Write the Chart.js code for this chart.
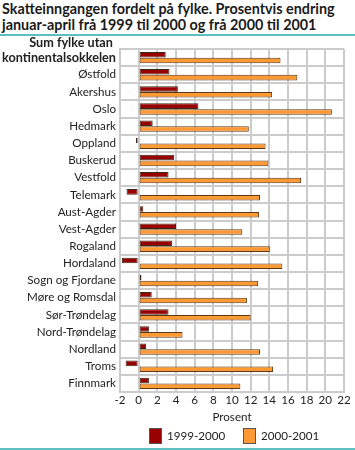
<!DOCTYPE html>
<html><head><meta charset="utf-8">
<script src="https://cdn.jsdelivr.net/npm/chart.js@4/dist/chart.umd.min.js"></script>
<style>
html,body{margin:0;padding:0;background:#fff;width:355px;height:450px;overflow:hidden;font-family:Lato,sans-serif;}
#title{position:absolute;left:2px;top:1px;font-family:Lato,sans-serif;font-weight:bold;font-size:14px;line-height:16px;color:#1a1a1a;white-space:nowrap;}
#line1{position:absolute;left:0;top:34px;width:355px;height:2px;background:#5cc0c0;}
#line2{position:absolute;left:0;top:448px;width:355px;height:2px;background:#5cc0c0;}
#wrap{position:absolute;left:0;top:0;width:355px;height:447px;}
#legend{position:absolute;left:0;top:428px;width:355px;height:16px;}
.li{position:absolute;top:0;height:16px;white-space:nowrap;color:#222;}
.sw{position:absolute;left:0;top:0;width:13px;height:16px;box-sizing:border-box;border:1px solid #555;}
.lt{position:absolute;left:18px;top:-1px;line-height:18px;}
</style></head>
<body>
<div id="title"><span id="t1">Skatteinngangen fordelt på fylke. Prosentvis endring</span><br><span id="t2">januar-april frå 1999 til 2000 og frå 2000 til 2001</span></div>
<div id="line1"></div>
<div id="wrap"><canvas id="c" width="355" height="447"></canvas></div>
<div id="legend"></div>
<div id="line2"></div>
<script>
const categories = [
  ["Sum fylke utan ","kontinentalsokkelen",""],
  "Østfold","Akershus","Oslo","Hedmark","Oppland","Buskerud","Vestfold",
  "Telemark","Aust-Agder","Vest-Agder","Rogaland","Hordaland",
  "Sogn og Fjordane","Møre og Romsdal","Sør-Trøndelag","Nord-Trøndelag",
  "Nordland","Troms","Finnmark"
];
const series1999_2000 = [2.9,3.3,4.2,6.4,1.5,-0.3,3.8,3.2,-1.3,0.5,4.0,3.6,-1.8,0.3,1.4,3.2,1.1,0.8,-1.4,1.1];
const series2000_2001 = [15.2,17.0,14.3,20.7,11.8,13.6,13.9,17.4,13.0,12.9,11.1,14.05,15.4,12.8,11.6,12.0,4.7,13.0,14.4,10.9];
const seriesLabels = ["1999-2000","2000-2001"];
const seriesColors = ["#990000","#ff9933"];
const xTicks = [-2,0,2,4,6,8,10,12,14,16,18,20,22];
const FAM = 'Lato, "Open Sans", sans-serif';

const mctx = document.createElement('canvas').getContext('2d');
function fitSize(text, weight, family, target){
  mctx.font = weight + ' 20px ' + family;
  return +(20 * target / mctx.measureText(text).width).toFixed(2);
}

function build(){
  const regSize = fitSize("Møre og Romsdal", "normal", FAM, 89);
  const boldSize = fitSize("kontinentalsokkelen", "bold", FAM, 114);

  const t1=document.getElementById('t1');
  const w=t1.getBoundingClientRect().width;
  document.getElementById('title').style.fontSize=(14*333/w).toFixed(2)+'px';

  Chart.defaults.font.family = FAM;
  Chart.defaults.font.size = regSize;
  Chart.defaults.color = '#222';

  new Chart(document.getElementById('c'), {
    type: 'bar',
    data: {
      labels: categories,
      datasets: [
        {label: seriesLabels[0], data: series1999_2000, backgroundColor:seriesColors[0], borderColor:'#3a2a1a', borderWidth:1, borderSkipped:false,
         categoryPercentage:0.68, barPercentage:0.95},
        {label: seriesLabels[1], data: series2000_2001, backgroundColor:seriesColors[1], borderColor:'#5a3a1a', borderWidth:1, borderSkipped:false,
         categoryPercentage:0.68, barPercentage:0.95}
      ]
    },
    options: {
      indexAxis: 'y',
      responsive: false,
      animation: false,
      devicePixelRatio: 1,
      layout: {padding: {top: 49, left: 0, right: 11, bottom: 22}},
      scales: {
        x: {
          type: 'linear', min: -2, max: 22,
          afterBuildTicks: (s) => { s.ticks = xTicks.map(v => ({value: v})); },
          afterFit: (s) => { s.height = 33; },
          grid: {color:'#cccccc', lineWidth:2, drawTicks:false},
          border: {color:'#cccccc', width:2},
          ticks: {padding: 1, color:'#222', font:{size:regSize}, autoSkip:false, maxRotation:0, minRotation:0},
          title: {display:true, text:'Prosent', color:'#222', font:{size:regSize}, padding:{top:0,bottom:1}}
        },
        y: {
          grid: {color:'#cccccc', lineWidth:2, drawTicks:false},
          border: {color:'#cccccc', width:2},
          afterFit: (s) => { s.width = 120; },
          ticks: {
            padding: 4, color:'#222', autoSkip:false,
            font: (ctx) => ctx.index === 0 ? {size:boldSize, weight:'bold', lineHeight:1.12} : {size:regSize}
          }
        }
      },
      plugins: {
        legend: {display:false},
        tooltip: {enabled:false}
      }
    }
  });

  const lg = document.getElementById('legend');
  const xs = [149, 243];
  seriesLabels.forEach((lab,i)=>{
    const d = document.createElement('div'); d.className='li'; d.style.left = xs[i]+'px';
    d.style.fontSize = regSize+'px';
    const sw = document.createElement('div'); sw.className='sw'; sw.style.background = seriesColors[i];
    const t = document.createElement('span'); t.className='lt'; t.textContent = lab;
    d.appendChild(sw); d.appendChild(t); lg.appendChild(d);
  });
}

Promise.all([
  document.fonts.load('12px Lato'),
  document.fonts.load('bold 12px Lato')
]).then(build, build);
</script>
</body></html>
